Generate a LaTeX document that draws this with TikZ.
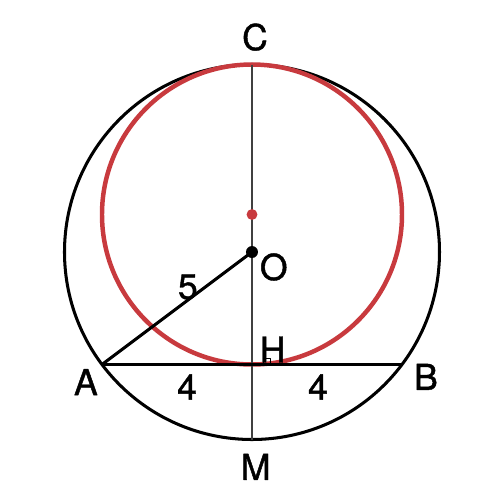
\documentclass[tikz,border=0pt]{standalone}
\usepackage{fontspec}
\setmainfont{TeX Gyre Heros}
\newfontfamily\lblfont[FakeBold=1.2]{TeX Gyre Heros}
\usetikzlibrary{positioning}
\definecolor{circred}{RGB}{200,58,62}
\begin{document}
\begin{tikzpicture}[line join=round,
      lbl/.style={font=\lblfont\fontsize{27}{31}\selectfont,inner sep=0pt},
      dot/.style={circle,fill,inner sep=0pt,minimum size=#1},
      axis line/.style={draw=black!75,line width=1.1pt}]
  \useasboundingbox (-6.72,-6.72) rectangle (6.61,6.72);
  \coordinate (O) at (0,0);
  \coordinate (K) at (0,1);
  \coordinate (C) at (0,5);
  \coordinate (H) at (0,-3);
  \coordinate (M) at (0,-5);
  \coordinate (A) at (-4,-3);
  \coordinate (B) at (4,-3);
  % circles
  \draw[line width=2.3pt] (O) circle (5);
  \draw[circred,line width=3.4pt] (K) circle (4);
  % diameter and chord
  \draw[axis line] (C) -- (M);
  \draw[line width=3pt] (A) -- (B);
  \draw[line width=2.3pt] (A) -- (O);
  \draw[line width=1pt] ([xshift=0.3cm]H) rectangle ++(0.2,0.16);
  \node[dot=0.32cm] at (O) {};
  \node[dot=0.29cm,circred] at (K) {};
  % labels
  \node[lbl] (lC) at (0.08,5.73) {C};
  \node[lbl] (lM) at (0.1,-5.73) {M};
  \node[lbl] (lA) at (-4.43,-3.47) {A};
  \node[lbl] (lB) at (4.64,-3.33) {B};
  \node[lbl] (lO) at (0.58,-0.4) {O};
  \node[lbl] (lH) at (0.55,-2.6) {H};
  \node[lbl] (l5) at (-1.71,-0.93) {5};
  \node[lbl] (l4a) at (-1.73,-3.6) {4};
  \node[lbl] (l4b) at (1.76,-3.6) {4};
\end{tikzpicture}
\end{document}
